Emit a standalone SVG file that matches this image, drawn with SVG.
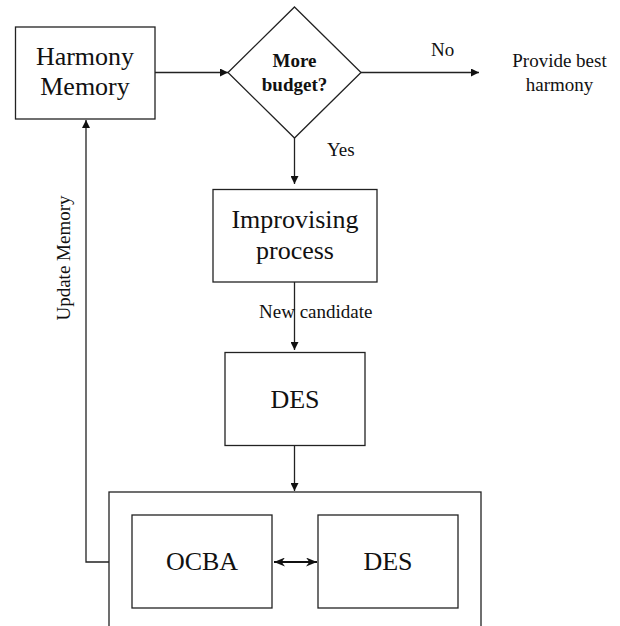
<svg xmlns="http://www.w3.org/2000/svg" width="620" height="626" viewBox="0 0 620 626">
<defs>
<style>
.box{fill:#fff;stroke:#222;stroke-width:1.3}
.ln{fill:none;stroke:#222;stroke-width:1.3}
.big{font-family:"Liberation Serif",serif;font-size:26px;fill:#111;text-anchor:middle}
.lbl{font-family:"Liberation Serif",serif;font-size:19px;fill:#111}
.bold{font-family:"Liberation Serif",serif;font-size:19px;font-weight:bold;fill:#111;text-anchor:middle}
</style>
<marker id="ah" viewBox="0 0 10 10" refX="10" refY="5" markerWidth="8" markerHeight="8" markerUnits="userSpaceOnUse" orient="auto">
<path d="M0,0 L10,5 L0,10 z" fill="#111"/>
</marker>
<marker id="ah2" viewBox="0 0 10 10" refX="10" refY="5" markerWidth="11" markerHeight="9" markerUnits="userSpaceOnUse" orient="auto-start-reverse" preserveAspectRatio="none">
<path d="M0,0 L10,5 L0,10 L3,5 z" fill="#111"/>
</marker>
</defs>
<rect width="620" height="626" fill="#fff"/>
<g id="harmony-memory">
<rect class="box" x="15.5" y="27" width="139.5" height="92"/>
<text class="big" x="85" y="65">Harmony</text>
<text class="big" x="85" y="95">Memory</text>
</g>
<g id="decision">
<polygon class="box" points="294.5,7 361,72.5 294.5,138 228,72.5"/>
<text class="bold" x="294.5" y="67">More</text>
<text class="bold" x="294.5" y="91">budget?</text>
</g>
<g id="output">
<text class="lbl" text-anchor="middle" x="559.5" y="67">Provide best</text>
<text class="lbl" text-anchor="middle" x="559.5" y="91">harmony</text>
</g>
<g id="improvising">
<rect class="box" x="213" y="189.5" width="164" height="92.5"/>
<text class="big" x="295" y="228">Improvising</text>
<text class="big" x="295" y="259">process</text>
</g>
<g id="des1">
<rect class="box" x="225" y="352.5" width="140" height="93"/>
<text class="big" x="295" y="408">DES</text>
</g>
<g id="container">
<rect class="box" x="109" y="492" width="372" height="150"/>
</g>
<g id="ocba">
<rect class="box" x="132" y="515" width="140" height="93"/>
<text class="big" x="202" y="570">OCBA</text>
</g>
<g id="des2">
<rect class="box" x="318" y="515" width="140" height="93"/>
<text class="big" x="388" y="570">DES</text>
</g>
<g id="connectors">
<line class="ln" x1="155" y1="72.5" x2="228" y2="72.5" marker-end="url(#ah)"/>
<line class="ln" x1="361" y1="72.5" x2="479" y2="72.5" marker-end="url(#ah)"/>
<line class="ln" x1="294.5" y1="138" x2="294.5" y2="184" marker-end="url(#ah)"/>
<line class="ln" x1="294.5" y1="282" x2="294.5" y2="350" marker-end="url(#ah)"/>
<line class="ln" x1="294.5" y1="446" x2="294.5" y2="491" marker-end="url(#ah)"/>
<polyline class="ln" points="109,562 86,562 86,120" marker-end="url(#ah)"/>
<line x1="274" y1="562" x2="317" y2="562" stroke="#111" stroke-width="2.2" marker-start="url(#ah2)" marker-end="url(#ah2)"/>
<text class="lbl" x="431" y="56">No</text>
<text class="lbl" x="327" y="156">Yes</text>
<text class="lbl" x="259" y="318">New candidate</text>
<text class="lbl" text-anchor="middle" transform="translate(70,258) rotate(-90)">Update Memory</text>
</g>
</svg>
